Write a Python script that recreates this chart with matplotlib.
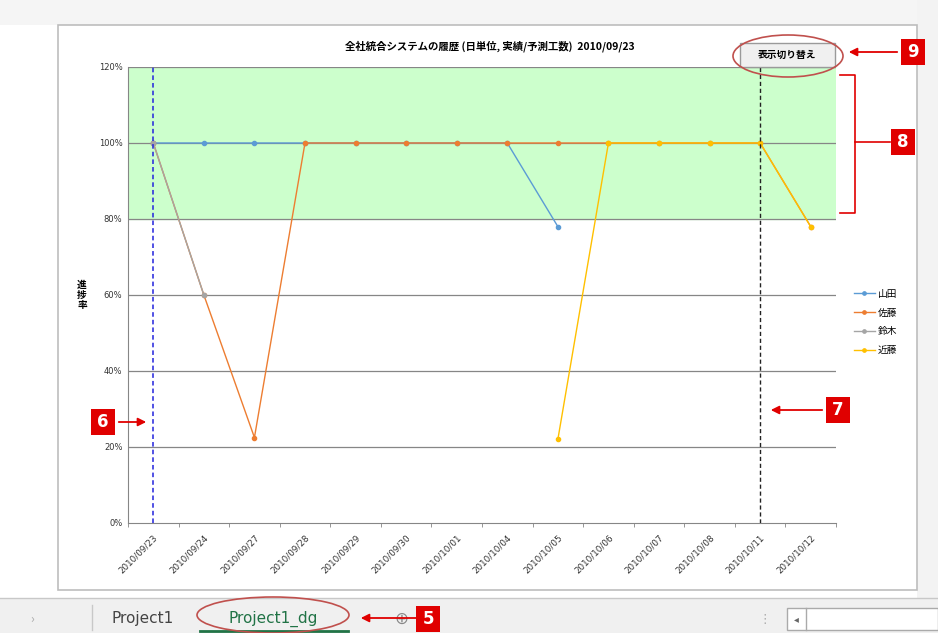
import numpy as np
import matplotlib
matplotlib.use("Agg")
import matplotlib.pyplot as plt
from matplotlib.patches import Rectangle, Ellipse, FancyBboxPatch, FancyArrowPatch

plt.rcParams['font.family'] = ['Noto Sans CJK JP', 'DejaVu Sans']

W, H = 938, 633

dates = ['2010/09/23', '2010/09/24', '2010/09/27', '2010/09/28', '2010/09/29',
         '2010/09/30', '2010/10/01', '2010/10/04', '2010/10/05', '2010/10/06',
         '2010/10/07', '2010/10/08', '2010/10/11', '2010/10/12']
nan = np.nan
yamada = [100, 100, 100, 100, 100, 100, 100, 100, 78, nan, nan, nan, nan, nan]
sato = [100, 60, 22.5, 100, 100, 100, 100, 100, 100, 100, 100, 100, 100, 78]
suzuki = [100, 60, nan, nan, nan, nan, nan, nan, nan, nan, nan, nan, nan, nan]
kondo = [nan, nan, nan, nan, nan, nan, nan, nan, 22, 100, 100, 100, 100, 78]
series_names = ['山田', '佐藤', '鈴木', '近藤']
series_colors = ['#5B9BD5', '#ED7D31', '#A5A5A5', '#FFC000']
band = (80, 120)
start_idx = 0   # blue dashed line
now_idx = 12    # black dashed line

title = '全社統合システムの履歴 (日単位, 実績/予測工数)  2010/09/23'


def fx(x):
    return x / W


def fy(y):
    return 1 - y / H


fig = plt.figure(figsize=(W / 100, H / 100), dpi=100, facecolor='white')

# background of the screenshot
fig.patches.append(Rectangle((0, fy(25)), 1, 25 / H, transform=fig.transFigure,
                             facecolor='#f5f5f5', edgecolor='none', zorder=-2))
fig.patches.append(Rectangle((fx(917), 0), 21 / W, 1, transform=fig.transFigure,
                             facecolor='#f3f3f3', edgecolor='none', zorder=-2))
fig.patches.append(Rectangle((fx(58), fy(590)), 859 / W, 565 / H,
                             transform=fig.transFigure, facecolor='white',
                             edgecolor='#bdbdbd', linewidth=1.2, zorder=-1))

# plot area
ax = fig.add_axes([fx(128), fy(523), (836 - 128) / W, (523 - 67) / H])
x = np.arange(len(dates))
ax.set_xlim(-0.5, len(dates) - 0.5)
ax.set_ylim(0, 120)
ax.axhspan(band[0], band[1], color='#ccffcc', zorder=0)
for v in range(20, 121, 20):
    ax.axhline(v, color='#868686', linewidth=0.9, zorder=1)

for name, vals, c in zip(series_names, [yamada, sato, suzuki, kondo], series_colors):
    ax.plot(x, vals, color=c, linewidth=1.0, marker='o', markersize=3,
            label=name, zorder=3)

ax.axvline(start_idx, color='#2222dd', linestyle=(0, (3, 2)), linewidth=1.1, zorder=4)
ax.axvline(now_idx, color='#222222', linestyle=(0, (3, 2)), linewidth=1.0, zorder=4)

ax.set_yticks(range(0, 121, 20))
ax.set_yticklabels(['%d%%' % v for v in range(0, 121, 20)], fontsize=6,
                   family='DejaVu Sans', color='#333333')
ax.set_xticks(x)
ax.set_xticklabels(dates, rotation=45, ha='right', rotation_mode='anchor',
                   fontsize=6.3, family='DejaVu Sans', color='#333333')
ax.set_xticks(np.arange(-0.5, len(dates), 1), minor=True)
ax.tick_params(axis='x', which='major', length=0, pad=7)
ax.tick_params(axis='x', which='minor', length=3, color='#868686')
ax.tick_params(axis='y', length=0, pad=4)
for s in ['top', 'right']:
    ax.spines[s].set_visible(False)
ax.spines['left'].set_color('#868686')
ax.spines['bottom'].set_color('#868686')
ax.set_facecolor('white')

ax.set_ylabel('進\n捗\n率', rotation=0, fontsize=7, fontweight='bold',
              va='center', labelpad=12, linespacing=1.0)

fig.text(fx(490), fy(46), title, fontsize=7.5, fontweight='bold',
         ha='center', va='center')

leg = fig.legend(loc='center left', bbox_to_anchor=(fx(845), fy(322)),
                 frameon=False, fontsize=7, handlelength=2.2, labelspacing=0.9,
                 handletextpad=0.3, markerscale=0.8)

# button 表示切り替え
fig.patches.append(FancyBboxPatch((fx(740), fy(67)), 95 / W, 24 / H,
                                  boxstyle='square,pad=0', transform=fig.transFigure,
                                  facecolor='#f0f0f0', edgecolor='#9a9a9a',
                                  linewidth=1.0, zorder=5))
fig.text(fx(787), fy(55), '表示切り替え', fontsize=7, fontweight='bold',
         ha='center', va='center', zorder=6)
fig.patches.append(Ellipse((fx(788), fy(56)), 110 / W, 42 / H,
                           transform=fig.transFigure, fill=False,
                           edgecolor='#c0504d', linewidth=1.2, zorder=7))

red = '#e00000'


def badge(cx, cy, label, w=24, h=26):
    fig.patches.append(Rectangle((fx(cx - w / 2), fy(cy + h / 2)), w / W, h / H,
                                 transform=fig.transFigure, facecolor=red,
                                 edgecolor='none', zorder=8))
    fig.text(fx(cx), fy(cy), label, color='white', fontsize=12, fontweight='bold',
             ha='center', va='center', zorder=9, family='DejaVu Sans')


def arrow(x0, y0, x1, y1):
    fig.add_artist(FancyArrowPatch(
        (fx(x0), fy(y0)), (fx(x1), fy(y1)), transform=fig.transFigure,
        arrowstyle='-|>', mutation_scale=12, color=red, linewidth=1.3, zorder=8))


badge(913, 52, '9')
arrow(900, 52, 846, 52)
badge(903, 142, '8')
# bracket for 8
bx = [fx(840), fx(855), fx(855), fx(840)]
by = [fy(75), fy(75), fy(213), fy(213)]
fig.add_artist(plt.Line2D(bx, by, transform=fig.transFigure, color=red,
                          linewidth=1.2, zorder=8))
fig.add_artist(plt.Line2D([fx(855), fx(890)], [fy(142), fy(142)],
                          transform=fig.transFigure, color=red, linewidth=1.2, zorder=8))
badge(103, 422, '6')
arrow(116, 422, 149, 422)
badge(838, 410, '7')
arrow(825, 410, 768, 410)

# sheet tab bar
fig.patches.append(Rectangle((0, 0), 1, 35 / H, transform=fig.transFigure,
                             facecolor='#f0f0f0', edgecolor='none', zorder=-2))
fig.add_artist(plt.Line2D([0, 1], [fy(598), fy(598)], transform=fig.transFigure,
                          color='#c8c8c8', linewidth=1.0))
fig.add_artist(plt.Line2D([fx(92), fx(92)], [fy(605), fy(630)],
                          transform=fig.transFigure, color='#c8c8c8', linewidth=1.0))
fig.text(fx(32), fy(619), '›', fontsize=9, color='#aaaaaa', ha='center', va='center')
fig.text(fx(143), fy(619), 'Project1', fontsize=11, color='#444444',
         ha='center', va='center', family='DejaVu Sans')
fig.text(fx(273), fy(619), 'Project1_dg', fontsize=11, color='#217346',
         ha='center', va='center', family='DejaVu Sans')
fig.add_artist(plt.Line2D([fx(200), fx(348)], [fy(631), fy(631)],
                          transform=fig.transFigure, color='#217346', linewidth=2))
fig.patches.append(Ellipse((fx(273), fy(615)), 152 / W, 36 / H,
                           transform=fig.transFigure, fill=False,
                           edgecolor='#c0504d', linewidth=1.2, zorder=7))
fig.text(fx(401), fy(619), '⊕', fontsize=12, color='#888888',
         ha='center', va='center', family='DejaVu Sans')
arrow(420, 618, 358, 618)
badge(428, 619, '5')
fig.text(fx(765), fy(619), '⋮', fontsize=9, color='#aaaaaa', ha='center', va='center',
         family='DejaVu Sans')
fig.patches.append(Rectangle((fx(787), fy(630)), 151 / W, 22 / H,
                             transform=fig.transFigure, facecolor='white',
                             edgecolor='#aaaaaa', linewidth=1.0, zorder=1))
fig.add_artist(plt.Line2D([fx(806), fx(806)], [fy(630), fy(608)],
                          transform=fig.transFigure, color='#aaaaaa', linewidth=1.0))
fig.text(fx(796), fy(619), '◂', fontsize=7, color='#666666', ha='center', va='center',
         family='DejaVu Sans')

fig.savefig('out.png', dpi=100, facecolor=fig.get_facecolor())
